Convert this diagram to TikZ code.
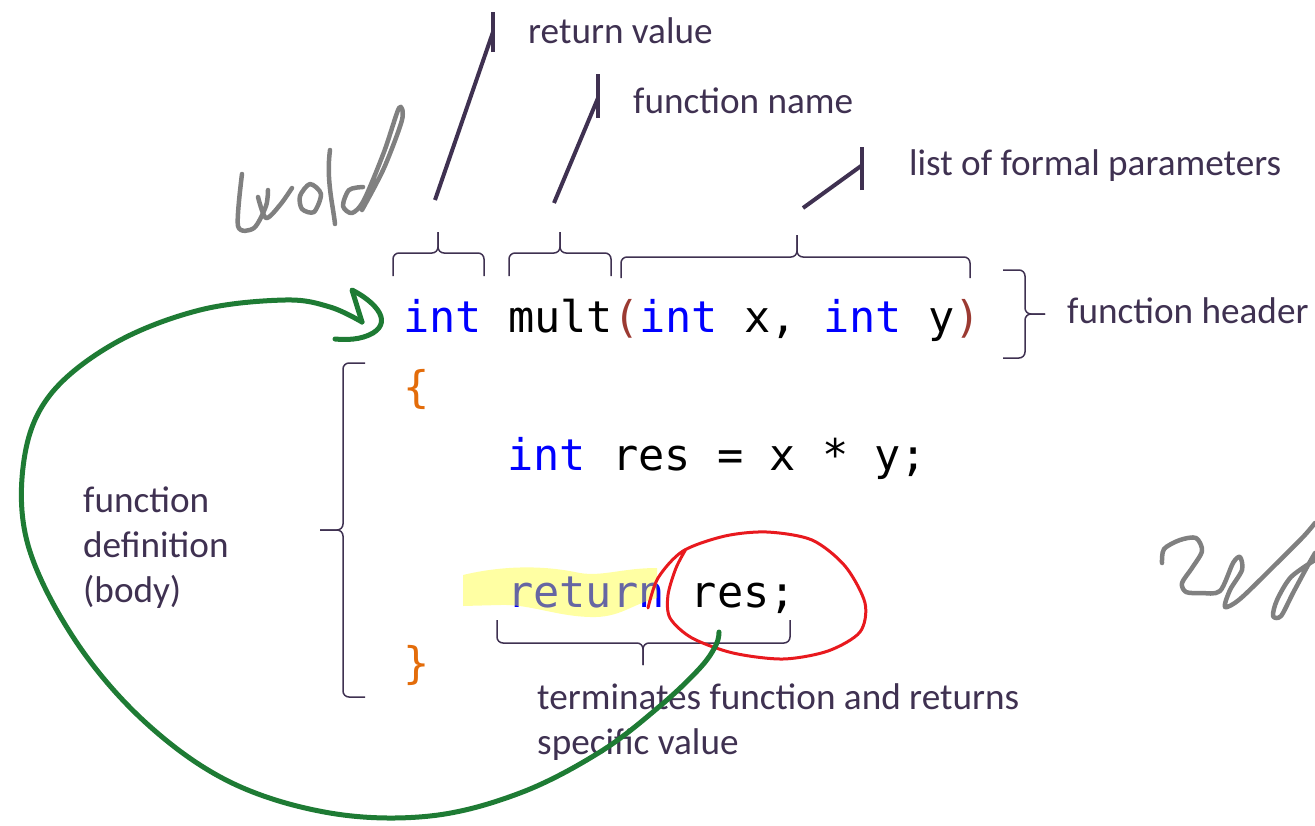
\documentclass[tikz,border=0pt]{standalone}
\usepackage{fontspec}
\setmainfont{Carlito}
\newfontfamily\codefont{DejaVu Sans Mono}
\definecolor{txt}{HTML}{3F3151}
\definecolor{kwblue}{HTML}{0000FF}
\definecolor{parbrown}{HTML}{9B3A32}
\definecolor{brcorange}{HTML}{E36C0A}
\definecolor{inkgreen}{HTML}{1E7B34}
\definecolor{inkred}{HTML}{E8191E}
\definecolor{inkgray}{HTML}{808080}
\definecolor{hlyellow}{RGB}{255,255,26}
\begin{document}
\begin{tikzpicture}[x=1pt,y=-1pt,line join=round,
  lbl/.style={font=\fontsize{37.2}{45}\selectfont,text=txt,inner sep=0pt},
  code/.style={font=\codefont\fontsize{43.6}{50}\selectfont,anchor=base west,inner sep=0pt},
  brc/.style={draw=txt,line width=1.5pt,rounded corners=6pt},
  leader/.style={draw=txt,line width=4pt},
  ink/.style={line width=4.5pt,line cap=round,line join=round}]
  \useasboundingbox (0,0) rectangle (1315,825);
  \node[code] (hdr) at (403,332) {\textcolor{kwblue}{int} mult\textcolor{parbrown}{(}\textcolor{kwblue}{int} x, \textcolor{kwblue}{int} y\textcolor{parbrown}{)}};
  \node[code,text=brcorange] (obrace) at (403,402) {\{};
  \node[code] (stmt) at (507,470) {\textcolor{kwblue}{int} res = x * y;};
  \node[code] (ret) at (507,607) {\textcolor{kwblue}{return} res;};
  \node[code,text=brcorange] (cbrace) at (403,678) {\}};
  \fill[hlyellow,opacity=0.4] (463,575) .. controls (500,566) and (540,565) .. (575,572) .. controls (600,578) and (620,568) .. (657,568) -- (657,598) .. controls (630,605) and (620,618) .. (590,617) .. controls (555,616) and (530,604) .. (500,605) -- (463,606) -- cycle;
  \node[lbl,anchor=base west] (rvlbl) at (528,43) {return value};
  \node[lbl,anchor=base west] (fnlbl) at (633,113) {function name};
  \node[lbl,anchor=base west] (pllbl) at (909,175) {list of formal parameters};
  \node[lbl,anchor=base west] (fhlbl) at (1067,323) {function header};
  \node[lbl,anchor=north west,align=left] (fdlbl) at (83,487) {function\\definition\\(body)};
  \node[lbl,anchor=north west,align=left] (trlbl) at (537,683) {terminates function and returns\\specific value};
  % braces
  \draw[brc] (393,276) |- (438,253) -- (438,232);
  \draw[brc] (484,276) |- (438,253) -- (438,232);
  \draw[brc] (509,276) |- (560,253) -- (560,232);
  \draw[brc] (611,276) |- (560,253) -- (560,232);
  \draw[brc] (621,278) |- (797,257) -- (797,235);
  \draw[brc] (970,278) |- (797,257) -- (797,235);
  \draw[brc] (1003,270) -| (1025,314) -- (1045,314);
  \draw[brc] (1003,358) -| (1025,314) -- (1045,314);
  \draw[brc] (365,363) -| (343,530) -- (320,530);
  \draw[brc] (365,697) -| (343,530) -- (320,530);
  \draw[brc] (497,620) |- (643,643) -- (643,665);
  \draw[brc] (790,620) |- (643,643) -- (643,665);
  % leaders
  \coordinate (rvfoot) at (435,200); \coordinate (rvtick) at (493,32);
  \coordinate (fnfoot) at (554,203); \coordinate (fntick) at (598,98);
  \coordinate (plfoot) at (803,208); \coordinate (pltick) at (861,166);
  \draw[leader] (rvfoot) -- (rvtick);
  \draw[leader] ([yshift=-20pt]rvtick) -- ([yshift=20pt]rvtick);
  \draw[leader] (fnfoot) -- (fntick);
  \draw[leader] ([yshift=-20pt]fntick) -- ([yshift=24pt]fntick);
  \draw[leader] (plfoot) -- (pltick);
  \draw[leader] ([xshift=1pt,yshift=-24pt]pltick) -- ([xshift=1pt,yshift=19pt]pltick);
  % ink
  \draw[ink,inkred,line width=3pt] plot[smooth] coordinates {(648,608) (658,578) (683,551) (725,536) (767,532) (812,540) (845,566) (865,603) (860,632) (828,651) (783,659) (733,653) (692,638) (670,618) (668,595) (676,568) (686,549)};
  \coordinate (resdot) at (719,632);
  \coordinate (arrowtip) at (362,322);
  \draw[ink,inkgreen,line width=5pt] plot[smooth,tension=0.6] coordinates {(resdot) (716,645) (700,668) (660,706) (600,752) (520,793) (430,816) (330,813) (230,782) (145,722) (75,640) (28,545) (24,460) (50,395) (115,343) (200,310) (285,300) (330,307) (arrowtip)};
  \draw[ink,inkgreen,line width=5pt] (arrowtip) -- (352,290) .. controls (372,300) and (394,320) .. (373,333) .. controls (361,340) and (346,340) .. (335,339);
  \draw[ink,inkgray] plot[smooth] coordinates {(242,174) (238,226) (254,228) (266,206) (268,190)};
  \draw[ink,inkgray] plot[smooth] coordinates {(258,197) (266,218) (280,205) (292,188)};
  \draw[ink,inkgray] plot[smooth cycle] coordinates {(300,196) (310,184) (321,194) (314,212) (302,209)};
  \draw[ink,inkgray] (330,150) .. controls (326,180) and (333,205) .. (335,224);
  \draw[ink,inkgray] plot[smooth] coordinates {(363,187) (349,190) (343,206) (352,213) (364,200) (384,152) (399,108) (402,120) (384,168) (362,210)};
  \draw[ink,inkgray] plot[smooth] coordinates {(1162,563) (1164,549) (1180,540) (1196,538) (1202,551) (1192,568) (1182,583) (1186,592) (1201,593) (1220,591) (1233,563) (1240,557) (1242,570) (1230,590) (1225,607) (1240,599) (1273,567) (1303,537) (1315,523)};
  \draw[ink,inkgray] plot[smooth] coordinates {(1315,560) (1291,577) (1277,600) (1273,616) (1281,616) (1293,593) (1307,567) (1315,553)};
\end{tikzpicture}
\end{document}
